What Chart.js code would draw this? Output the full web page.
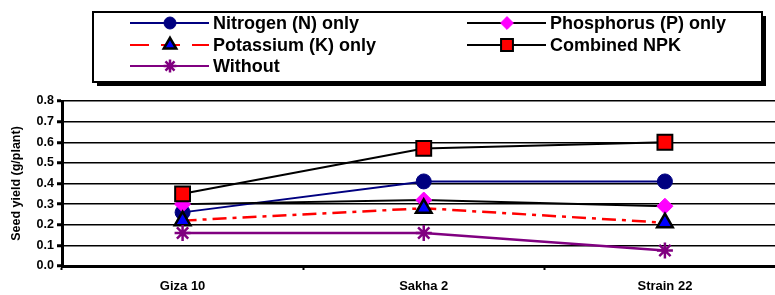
<!DOCTYPE html>
<html>
<head>
<meta charset="utf-8">
<script src="https://cdn.jsdelivr.net/npm/chart.js@4"></script>
<style>
  html, body { margin: 0; padding: 0; overflow: hidden; background: #fff; }
  #clip { width: 775px; height: 295px; overflow: hidden; }
  #yieldChart { display: block; }
</style>
</head>
<body>
<div id="clip"><canvas id="yieldChart" width="798" height="295"></canvas></div>
<script>
// Seed yield per cultivar and fertilizer treatment
const cultivars = ['Giza 10', 'Sakha 2', 'Strain 22'];
const nitrogenOnly = [0.26, 0.41, 0.41];
const phosphorusOnly = [0.30, 0.32, 0.29];
const potassiumOnly = [0.22, 0.28, 0.21];
const combinedNPK = [0.35, 0.57, 0.60];
const withoutFert = [0.16, 0.16, 0.075];
const yTicks = ['0.0', '0.1', '0.2', '0.3', '0.4', '0.5', '0.6', '0.7', '0.8'];

const FONT = 'Liberation Sans, Arial, sans-serif';

const datasets = [
    {
        label: 'Nitrogen (N) only',
        data: nitrogenOnly,
        borderColor: '#000080',
        borderWidth: 2,
        pointStyle: 'circle',
        pointRadius: 7.5,
        pointBackgroundColor: '#000080',
        pointBorderColor: '#000080',
        pointBorderWidth: 1,
        order: 5
    },
    {
        label: 'Phosphorus (P) only',
        data: phosphorusOnly,
        borderColor: '#000000',
        borderWidth: 2,
        pointStyle: 'rectRot',
        pointRadius: 8,
        pointBackgroundColor: '#ff00ff',
        pointBorderColor: '#ff00ff',
        pointBorderWidth: 1,
        order: 4
    },
    {
        label: 'Potassium (K) only',
        data: potassiumOnly,
        borderColor: '#ff0000',
        borderWidth: 2.5,
        borderDash: [14, 6, 4, 6],
        pointStyle: 'triangle',
        pointRadius: 9,
        pointBackgroundColor: '#0000ff',
        pointBorderColor: '#000000',
        pointBorderWidth: 2.5,
        order: 3
    },
    {
        label: 'Combined NPK',
        data: combinedNPK,
        borderColor: '#000000',
        borderWidth: 2,
        pointStyle: 'rect',
        pointRadius: 10.5,
        pointBackgroundColor: '#ff0000',
        pointBorderColor: '#000000',
        pointBorderWidth: 2,
        order: 2
    },
    {
        label: 'Without',
        data: withoutFert,
        borderColor: '#800080',
        borderWidth: 2.5,
        pointStyle: 'star',
        pointRadius: 8,
        pointBackgroundColor: '#800080',
        pointBorderColor: '#800080',
        pointBorderWidth: 2.5,
        order: 1
    }
];

// legend box drawn by hand (two columns, framed with shadow)
const boxLegend = {
    id: 'boxLegend',
    afterDraw(chart) {
        const ctx = chart.ctx;
        const bx = 93, by = 12, bw = 669, bh = 70;
        ctx.save();
        ctx.fillStyle = '#000';
        ctx.fillRect(bx + 4, by + 4, bw, bh);
        ctx.fillStyle = '#fff';
        ctx.fillRect(bx, by, bw, bh);
        ctx.strokeStyle = '#000';
        ctx.lineWidth = 2;
        ctx.strokeRect(bx, by, bw, bh);

        const slots = [
            [130, 23], [467, 23],
            [130, 45], [467, 45],
            [130, 66]
        ];
        datasets.forEach((ds, i) => {
            const [x, y] = slots[i];
            ctx.save();
            ctx.strokeStyle = ds.borderColor;
            ctx.lineWidth = 2;
            ctx.setLineDash(ds.borderDash ? [19, 12] : []);
            ctx.beginPath();
            ctx.moveTo(x, y);
            ctx.lineTo(x + 79, y);
            ctx.stroke();
            ctx.restore();

            ctx.fillStyle = ds.pointBackgroundColor;
            ctx.strokeStyle = ds.pointBorderColor;
            ctx.lineWidth = ds.pointBorderWidth;
            Chart.helpers.drawPoint(ctx, {
                pointStyle: ds.pointStyle,
                radius: ds.pointRadius * 0.8,
                rotation: 0,
                borderWidth: ds.pointBorderWidth
            }, x + 40, y);

            ctx.fillStyle = '#000';
            ctx.font = 'bold 18px ' + FONT;
            ctx.textBaseline = 'middle';
            ctx.textAlign = 'left';
            ctx.fillText(ds.label, x + 83, y + 1);
        });
        ctx.restore();
    }
};

const ctx = document.getElementById('yieldChart').getContext('2d');
new Chart(ctx, {
    type: 'line',
    data: { labels: cultivars, datasets: datasets },
    options: {
        responsive: false,
        animation: false,
        layout: { padding: { top: 101, right: 1, left: 0, bottom: 0 } },
        plugins: { legend: { display: false }, tooltip: { enabled: false } },
        elements: { line: { tension: 0 } },
        scales: {
            x: {
                offset: true,
                grid: {
                    display: true,
                    offset: true,
                    drawOnChartArea: false,
                    color: '#000',
                    tickLength: 4,
                    tickWidth: 2
                },
                border: { display: true, color: '#000', width: 3 },
                ticks: {
                    color: '#000',
                    padding: 9,
                    font: { family: FONT, size: 13, weight: 'bold' }
                },
                afterFit(scale) { scale.height = 29; }
            },
            y: {
                min: 0,
                max: 0.8,
                ticks: {
                    stepSize: 0.1,
                    color: '#000',
                    padding: 3,
                    font: { family: FONT, size: 12.5, weight: 'bold' },
                    callback: (v, i) => yTicks[i]
                },
                grid: {
                    color: '#000',
                    lineWidth: 1.5,
                    tickLength: 5,
                    tickWidth: 3,
                    tickColor: '#000'
                },
                border: { display: true, color: '#000', width: 3 },
                title: {
                    display: true,
                    text: 'Seed yield (g/plant)',
                    color: '#000',
                    padding: { top: 9, bottom: 0 },
                    font: { family: FONT, size: 12.5, weight: 'bold' }
                },
                afterFit(scale) { scale.width = 62; }
            }
        }
    },
    plugins: [boxLegend]
});
</script>
</body>
</html>
